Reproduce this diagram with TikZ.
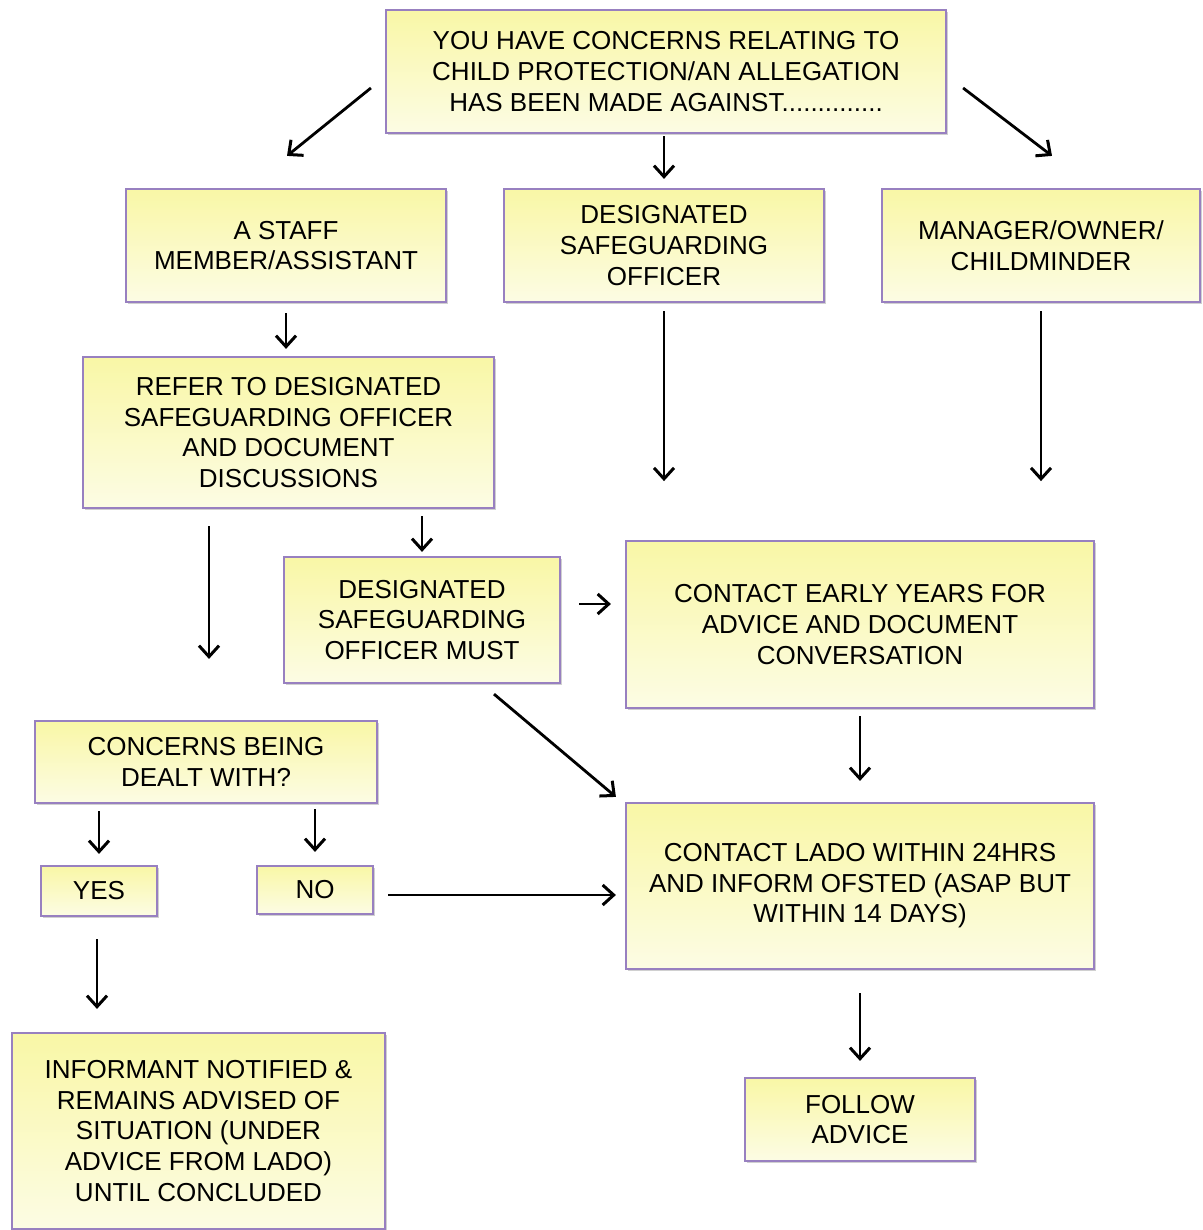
\documentclass[tikz,border=0pt]{standalone}
\usepackage{fontspec}
\setmainfont{Liberation Sans}
\usetikzlibrary{arrows.meta,shadows}
\definecolor{boxtop}{RGB}{249,247,166}
\definecolor{boxbot}{RGB}{252,252,228}
\definecolor{boxline}{RGB}{152,128,192}
\tikzset{
  box/.style={draw=boxline, line width=1.1pt, top color=boxtop, bottom color=boxbot,
    align=center, inner sep=0pt, text=black,
    font=\fontsize{13}{15.3}\selectfont,
    drop shadow={shadow xshift=0.8pt, shadow yshift=-1pt, opacity=0.3, fill=black!60}},
  arr/.style={-{Straight Barb[length=5.5pt,width=10pt,line width=1.5pt]}, line width=1.4pt}
}
\begin{document}
\begin{tikzpicture}[x=0.5pt,y=-0.5pt]
\useasboundingbox (0,0) rectangle (1203,1230);
\fill[white] (0,0) rectangle (1203,1230);

\node[box, minimum width=280pt, minimum height=61.5pt] (top) at (666,71.5)
  {YOU HAVE CONCERNS RELATING TO\\CHILD PROTECTION/AN ALLEGATION\\HAS BEEN MADE AGAINST..............};
\node[box, minimum width=160pt, minimum height=56.5pt] (staff) at (286,245.5)
  {A STAFF\\MEMBER/ASSISTANT};
\node[box, minimum width=160pt, minimum height=56.5pt] (dso) at (664,245.5)
  {DESIGNATED\\SAFEGUARDING\\OFFICER};
\node[box, minimum width=159pt, minimum height=56.5pt] (mgr) at (1041,245.5)
  {MANAGER/OWNER/\\CHILDMINDER};
\node[box, minimum width=205.5pt, minimum height=75.5pt] (refer) at (288.5,432.5)
  {REFER TO DESIGNATED\\SAFEGUARDING OFFICER\\AND DOCUMENT\\DISCUSSIONS};
\node[box, minimum width=138pt, minimum height=63pt] (dsom) at (422,620)
  {DESIGNATED\\SAFEGUARDING\\OFFICER MUST};
\node[box, minimum width=234pt, minimum height=83.5pt] (ey) at (860,624.5)
  {CONTACT EARLY YEARS FOR\\ADVICE AND DOCUMENT\\CONVERSATION};
\node[box, minimum width=171pt, minimum height=41pt] (conc) at (206,762)
  {CONCERNS BEING\\DEALT WITH?};
\node[box, minimum width=58pt, minimum height=25pt] (yes) at (99,891) {YES};
\node[box, minimum width=58pt, minimum height=24pt] (no) at (315,890) {NO};
\node[box, minimum width=234pt, minimum height=83pt] (lado) at (860,886)
  {CONTACT LADO WITHIN 24HRS\\AND INFORM OFSTED (ASAP BUT\\WITHIN 14 DAYS)};
\node[box, minimum width=186.5pt, minimum height=98pt] (inf) at (198.5,1131)
  {INFORMANT NOTIFIED \&\\REMAINS ADVISED OF\\SITUATION (UNDER\\ADVICE FROM LADO)\\UNTIL CONCLUDED};
\node[box, minimum width=115pt, minimum height=41.5pt] (follow) at (860,1119.5)
  {FOLLOW\\ADVICE};

% connectors
\draw[arr] ([shift={(-14,16.5)}]top.west) -- ([shift={(1,-32)}]staff.north);
\draw[arr, shorten <=1pt, shorten >=4.5pt] (top.south -| dso.north) -- (dso.north);
\draw[arr] ([shift={(16,16.5)}]top.east) -- ([shift={(11,-32)}]mgr.north);
\draw[arr, shorten <=5pt, shorten >=3.5pt] (staff.south) -- (staff.south |- refer.north);
\draw[arr] ([yshift=-4pt]dso.south) -- ++(0,170) coordinate (dsoend);
\draw[arr] ([yshift=-4pt]mgr.south) -- ++(0,170) coordinate (mgrend);
\draw[arr, shorten <=3.5pt, shorten >=2pt] (dsom.north |- refer.south) -- (dsom.north);
\draw[arr, shorten <=8.5pt, shorten >=30.5pt] ([xshift=1.5pt]conc.north |- refer.south) -- ([xshift=1.5pt]conc.north);
\draw[arr, shorten <=9pt, shorten >=7pt] ([yshift=8pt]dsom.east) -- ([yshift=8pt]dsom.east -| ey.west);
\draw[arr] ([shift={(72,10)}]dsom.south) -- ([shift={(-9,-5)}]lado.north west);
\draw[arr, shorten <=3.5pt, shorten >=10.5pt] (ey.south) -- (lado.north);
\draw[arr, shorten <=3.5pt, shorten >=5.5pt] (yes.north |- conc.south) -- (yes.north);
\draw[arr, shorten <=2.5pt, shorten >=6.5pt] (no.north |- conc.south) -- (no.north);
\draw[arr, shorten <=7pt, shorten >=4.5pt] ([yshift=-2.5pt]no.east) -- ([yshift=-2.5pt]no.east -| lado.west);
\draw[arr, shorten <=11pt, shorten >=11.5pt] ([xshift=-1pt]yes.south) -- ([xshift=-1pt]yes.south |- inf.north);
\draw[arr, shorten <=11.5pt, shorten >=8pt] (lado.south) -- (follow.north);
\end{tikzpicture}
\end{document}
